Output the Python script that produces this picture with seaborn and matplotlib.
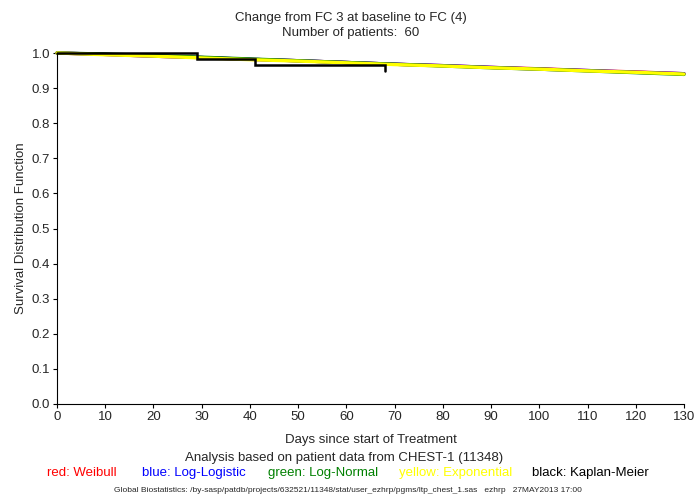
import matplotlib
matplotlib.use("Agg")
import matplotlib.pyplot as plt
import seaborn as sns
import pandas as pd

# ---- data ----
days = [0, 10, 20, 30, 40, 50, 60, 70, 80, 90, 100, 110, 120, 130]
weibull     = [1.000, 0.996, 0.991, 0.987, 0.982, 0.978, 0.973, 0.968, 0.964, 0.959, 0.955, 0.950, 0.946, 0.941]
loglogistic = [1.000, 0.996, 0.991, 0.987, 0.982, 0.978, 0.973, 0.968, 0.964, 0.959, 0.954, 0.950, 0.945, 0.941]
lognormal   = [1.000, 0.997, 0.993, 0.988, 0.983, 0.978, 0.973, 0.968, 0.963, 0.958, 0.954, 0.949, 0.944, 0.939]
exponential = [1.000, 0.995, 0.991, 0.986, 0.981, 0.977, 0.972, 0.967, 0.963, 0.958, 0.954, 0.949, 0.945, 0.940]

km_days = [0, 29, 41, 68]
km_surv = [1.000, 0.983, 0.966, 0.950]

yticks = [0.0, 0.1, 0.2, 0.3, 0.4, 0.5, 0.6, 0.7, 0.8, 0.9, 1.0]
xticks = list(range(0, 131, 10))

title1 = "Change from FC 3 at baseline to FC (4)"
title2 = "Number of patients:  60"
xlabel = "Days since start of Treatment"
ylabel = "Survival Distribution Function"
analysis = "Analysis based on patient data from CHEST-1 (11348)"
legend_items = ["red: Weibull", "blue: Log-Logistic", "green: Log-Normal",
                "yellow: Exponential", "black: Kaplan-Meier"]
legend_colors = ["#ff0000", "#0000ff", "#008000", "#ffff00", "#000000"]
footer = ("Global Biostatistics: /by-sasp/patdb/projects/632521/11348/stat/user_ezhrp/pgms/ltp_chest_1.sas   "
          "ezhrp   27MAY2013 17:00")

# ---- plotting ----
sns.set_style("ticks")
plt.rcParams["font.family"] = ["Liberation Sans", "DejaVu Sans"]

fig = plt.figure(figsize=(6.96, 4.97), dpi=100)
ax = fig.add_axes([57 / 696, 1 - 404 / 497, (684 - 57) / 696, (404 - 53) / 497])

fits = pd.DataFrame({"days": days * 4,
                     "surv": weibull + loglogistic + lognormal + exponential,
                     "model": ["Weibull"] * 14 + ["Log-Logistic"] * 14 +
                              ["Log-Normal"] * 14 + ["Exponential"] * 14})
sns.lineplot(data=fits, x="days", y="surv", hue="model",
             palette={"Weibull": "#ff0000", "Log-Logistic": "#0000ff",
                      "Log-Normal": "#008000", "Exponential": "#ffff00"},
             linewidth=2.4, legend=False, ax=ax, clip_on=False)

ax.step(km_days, km_surv, where="post", color="black", linewidth=1.8,
        clip_on=False, zorder=5, solid_joinstyle="miter")

ax.set_xlim(0, 130)
ax.set_ylim(0, 1.0)
ax.set_xticks(xticks)
ax.set_yticks(yticks)
ax.set_yticklabels([f"{v:.1f}" for v in yticks])
ax.tick_params(axis="both", length=3, width=0.8, labelsize=9.5, pad=2, color="black")
ax.set_xlabel(xlabel, fontsize=9.5, labelpad=8)
ax.set_ylabel(ylabel, fontsize=9.5, labelpad=3)
for s in ["top", "right"]:
    ax.spines[s].set_visible(False)
for s in ["left", "bottom"]:
    ax.spines[s].set_linewidth(0.8)
    ax.spines[s].set_color("black")

fig.text(351 / 696, 1 - 18 / 497, title1, ha="center", va="center", fontsize=9.5)
fig.text(351 / 696, 1 - 33 / 497, title2, ha="center", va="center", fontsize=9.5)
fig.text(344 / 696, 1 - 458 / 497, analysis, ha="center", va="center", fontsize=9.5)

leg_x = [47, 142, 268, 399, 532]
for x, t, c in zip(leg_x, legend_items, legend_colors):
    fig.text(x / 696, 1 - 473 / 497, t, ha="left", va="center", fontsize=9.5, color=c)

fig.text(348 / 696, 1 - 491 / 497, footer, ha="center", va="center", fontsize=6)

fig.savefig("out.png", dpi=100)
